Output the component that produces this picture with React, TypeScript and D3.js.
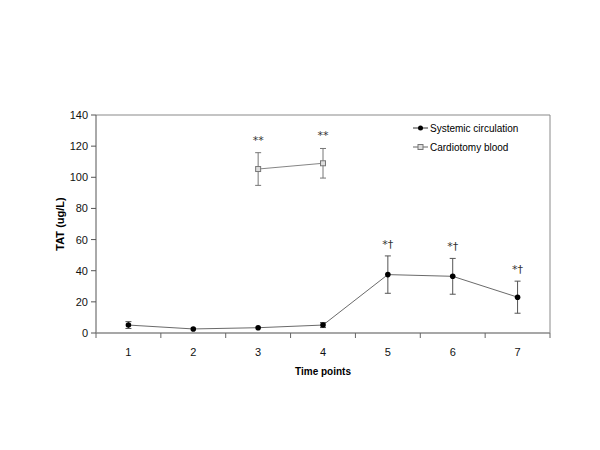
import React from "react";
import * as d3 from "d3";

const categories = ["1", "2", "3", "4", "5", "6", "7"];
const systemicMean = [5.1, 2.6, 3.4, 5.1, 37.5, 36.4, 23.0];
const systemicErr = [2.2, 0, 0, 1.6, 12.0, 11.5, 10.3];
const cardioCats = ["3", "4"];
const cardioMean = [105.3, 109.0];
const cardioErr = [10.5, 9.5];
const systemicNotes = ["", "", "", "", "*†", "*†", "*†"];
const cardioNotes = ["**", "**"];
const yTicks = [0, 20, 40, 60, 80, 100, 120, 140];

export default function App() {
  const left = 96, right = 550, top = 115, bottom = 333;
  const x = d3.scaleBand().domain(categories).range([left, right]);
  const y = d3.scaleLinear().domain([0, 140]).range([bottom, top]);
  const cx = (c: string) => (x(c) as number) + x.bandwidth() / 2;
  const line = d3.line<[number, number]>().x(d => d[0]).y(d => d[1]);
  const sysPts: [number, number][] = categories.map((c, i) => [cx(c), y(systemicMean[i])]);
  const carPts: [number, number][] = cardioCats.map((c, i) => [cx(c), y(cardioMean[i])]);
  const font = "Liberation Sans, Arial, sans-serif";
  const cap = 3;
  const bounds = categories.map((c) => x(c) as number).concat([right]);
  return (
    <svg width={600} height={450} style={{ position: "absolute", left: 0, top: 0, background: "#fff" }} fontFamily={font}>
      {/* frame */}
      <line x1={left} x2={right} y1={top} y2={top} stroke="#b0b0b0" strokeWidth={1.5} />
      <line x1={right} x2={right} y1={top} y2={bottom} stroke="#8a8a8a" strokeWidth={1} />
      {/* y axis */}
      <line x1={left} x2={left} y1={top} y2={bottom} stroke="#555" strokeWidth={1} />
      {yTicks.map(t => (
        <g key={t}>
          <line x1={left - 5} x2={left} y1={y(t)} y2={y(t)} stroke="#555" />
          <text x={left - 8} y={y(t) + 4} textAnchor="end" fontSize={11} fill="#111">{t}</text>
        </g>
      ))}
      {/* x axis */}
      <line x1={left} x2={right} y1={bottom} y2={bottom} stroke="#8a8a8a" strokeWidth={1.5} />
      {bounds.map((b, i) => (
        <line key={i} x1={b} x2={b} y1={bottom} y2={bottom + 5} stroke="#666" />
      ))}
      {categories.map(c => (
        <text key={c} x={cx(c)} y={bottom + 23} textAnchor="middle" fontSize={11} fill="#111">{c}</text>
      ))}
      <text x={(left + right) / 2} y={375} textAnchor="middle" fontSize={10} fontWeight="bold">Time points</text>
      <text transform={`translate(64,${(top + bottom) / 2}) rotate(-90)`} textAnchor="middle" fontSize={11} fontWeight="bold">TAT (ug/L)</text>

      {/* systemic */}
      <path d={line(sysPts) || ""} fill="none" stroke="#444" strokeWidth={0.8} />
      {categories.map((c, i) => systemicErr[i] > 0 && (
        <g key={c} stroke="#555" strokeWidth={1}>
          <line x1={cx(c)} x2={cx(c)} y1={y(systemicMean[i] + systemicErr[i])} y2={y(systemicMean[i] - systemicErr[i])} />
          <line x1={cx(c) - cap} x2={cx(c) + cap} y1={y(systemicMean[i] + systemicErr[i])} y2={y(systemicMean[i] + systemicErr[i])} />
          <line x1={cx(c) - cap} x2={cx(c) + cap} y1={y(systemicMean[i] - systemicErr[i])} y2={y(systemicMean[i] - systemicErr[i])} />
        </g>
      ))}
      {sysPts.map((p, i) => <circle key={i} cx={p[0]} cy={p[1]} r={2.8} fill="#000" />)}
      {categories.map((c, i) => systemicNotes[i] && (
        <text key={c} x={cx(c)} y={y(systemicMean[i] + systemicErr[i]) - 8} textAnchor="middle" fontSize={11} fill="#333" fontFamily="DejaVu Sans, sans-serif">{systemicNotes[i]}</text>
      ))}

      {/* cardiotomy */}
      <path d={line(carPts) || ""} fill="none" stroke="#666" strokeWidth={0.8} />
      {cardioCats.map((c, i) => (
        <g key={c} stroke="#777" strokeWidth={1}>
          <line x1={cx(c)} x2={cx(c)} y1={y(cardioMean[i] + cardioErr[i])} y2={y(cardioMean[i] - cardioErr[i])} />
          <line x1={cx(c) - cap} x2={cx(c) + cap} y1={y(cardioMean[i] + cardioErr[i])} y2={y(cardioMean[i] + cardioErr[i])} />
          <line x1={cx(c) - cap} x2={cx(c) + cap} y1={y(cardioMean[i] - cardioErr[i])} y2={y(cardioMean[i] - cardioErr[i])} />
        </g>
      ))}
      {carPts.map((p, i) => <rect key={i} x={p[0] - 2.5} y={p[1] - 2.5} width={5} height={5} fill="#ddd" stroke="#777" strokeWidth={1} />)}
      {cardioCats.map((c, i) => (
        <text key={c} x={cx(c)} y={y(cardioMean[i] + cardioErr[i]) - 9} textAnchor="middle" fontSize={11} fill="#333" fontFamily="DejaVu Sans, sans-serif">{cardioNotes[i]}</text>
      ))}

      {/* legend */}
      <line x1={413} x2={428} y1={128} y2={128} stroke="#333" />
      <circle cx={420.5} cy={128} r={2.5} fill="#000" />
      <text x={430} y={131.5} fontSize={10}>Systemic circulation</text>
      <line x1={413} x2={428} y1={147} y2={147} stroke="#666" />
      <rect x={418} y={144.5} width={5} height={5} fill="#ddd" stroke="#777" />
      <text x={430} y={150.5} fontSize={10}>Cardiotomy blood</text>
    </svg>
  );
}
